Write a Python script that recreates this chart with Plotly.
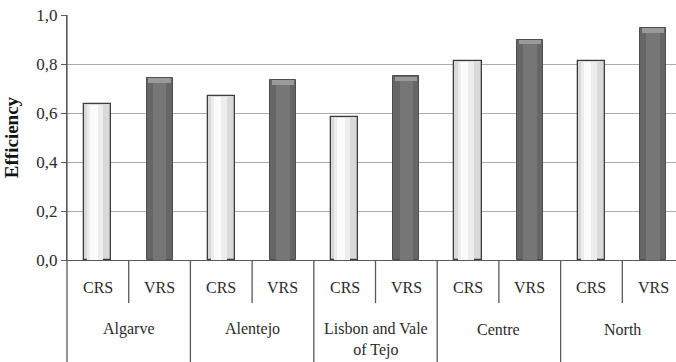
import plotly.graph_objects as go

# Efficiency scores per region, constant vs variable returns to scale
regions = ["Algarve", "Alentejo", "Lisbon and Vale<br>of Tejo", "Centre", "North"]
measures = ["CRS", "VRS"]
crs = [0.637, 0.669, 0.582, 0.813, 0.813]
vrs = [0.744, 0.735, 0.751, 0.900, 0.948]
y_ticks = [0.0, 0.2, 0.4, 0.6, 0.8, 1.0]
y_tick_labels = ["0,0", "0,2", "0,4", "0,6", "0,8", "1,0"]

FONT = "Times New Roman, Liberation Serif, serif"
TXT = "#2b2b2b"
LINE = "#5a5a5a"

n = len(regions)
x_crs = [2 * i for i in range(n)]
x_vrs = [2 * i + 1 for i in range(n)]

fig = go.Figure()

# CRS bars: light body with a brighter centre strip for a shaded look
fig.add_bar(x=x_crs, y=crs, width=0.44, marker=dict(color="#d9d9d9", line=dict(color="#3c3c3c", width=1.3)))
fig.add_bar(x=[x - 0.04 for x in x_crs], y=[v - 0.004 for v in crs], width=0.26,
            marker=dict(color="#ededed", line=dict(width=0)))
fig.add_bar(x=[x - 0.06 for x in x_crs], y=[v - 0.004 for v in crs], width=0.12,
            marker=dict(color="#fbfbfb", line=dict(width=0)))

# VRS bars: dark body, slightly lighter centre and a bevelled top
fig.add_bar(x=x_vrs, y=vrs, width=0.42, marker=dict(color="#666666", line=dict(color="#4d4d4d", width=1.0)))
fig.add_bar(x=x_vrs, y=[v - 0.003 for v in vrs], width=0.22,
            marker=dict(color="#767676", line=dict(width=0)))
fig.add_bar(x=x_vrs, y=[0.018] * n, base=[v - 0.02 for v in vrs], width=0.36,
            marker=dict(color="#9a9a9a", line=dict(width=0)))

shapes = []
annotations = []
# Category table below the axis
for i in range(n):
    for j, m in enumerate(measures):
        annotations.append(dict(x=2 * i + j, y=-0.114, xref="x", yref="paper", text=m, showarrow=False,
                                yanchor="middle", font=dict(family=FONT, size=16, color=TXT)))
    # divider between CRS and VRS
    shapes.append(dict(type="line", xref="x", yref="paper", x0=2 * i + 0.5, x1=2 * i + 0.5, y0=0, y1=-0.176,
                       line=dict(color=LINE, width=1.3)))
    # divider at the right edge of each region
    shapes.append(dict(type="line", xref="x", yref="paper", x0=2 * i + 1.5, x1=2 * i + 1.5, y0=0, y1=-0.45,
                       line=dict(color=LINE, width=1.3)))
    two_line = "<br>" in regions[i]
    annotations.append(dict(x=2 * i + 0.5, y=-0.324 if two_line else -0.282, xref="x", yref="paper",
                            text=regions[i], showarrow=False, yanchor="middle",
                            font=dict(family=FONT, size=16, color=TXT)))
# left axis line carried down through the table
shapes.append(dict(type="line", xref="paper", yref="paper", x0=0, x1=0, y0=1, y1=-0.45,
                   line=dict(color=LINE, width=1.3)))

fig.update_layout(
    width=676, height=362,
    margin=dict(l=67, r=0, t=15, b=102),
    paper_bgcolor="white", plot_bgcolor="white",
    barmode="overlay", showlegend=False, bargap=0,
    shapes=shapes, annotations=annotations,
    xaxis=dict(range=[-0.5, 9.37], showticklabels=False, showgrid=False, zeroline=False,
               showline=True, linecolor=LINE, linewidth=1.3, ticks=""),
    yaxis=dict(range=[0, 1.0], tickvals=y_ticks, ticktext=y_tick_labels,
               showgrid=True, gridcolor="#ababab", gridwidth=1, zeroline=False,
               showline=True, linecolor=LINE, linewidth=1.3,
               ticks="outside", ticklen=5, tickcolor=LINE,
               tickfont=dict(family=FONT, size=17, color=TXT),
               title=dict(text="<b>Efficiency</b>", font=dict(family=FONT, size=19, color="#111"), standoff=12)),
)

fig.write_html("out.html")
